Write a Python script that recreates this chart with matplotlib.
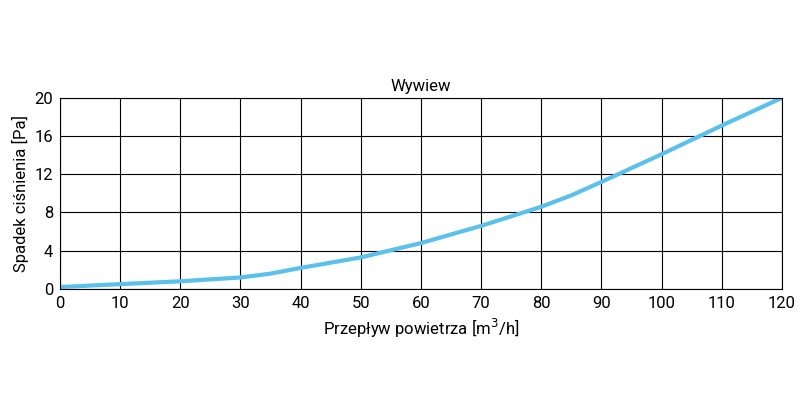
import matplotlib
matplotlib.use("Agg")
import matplotlib.pyplot as plt

flow = [0, 10, 20, 30, 35, 40, 50, 60, 70, 80, 85, 90, 100, 110, 120]
pressure = [0.2, 0.5, 0.8, 1.2, 1.6, 2.2, 3.3, 4.8, 6.6, 8.6, 9.8, 11.2, 14.1, 17.1, 20]
xticks = list(range(0, 121, 10))
yticks = [0, 4, 8, 12, 16, 20]

plt.rcParams['font.family'] = ['Roboto', 'DejaVu Sans']
fig = plt.figure(figsize=(8, 4.11), dpi=100)
ax = fig.add_axes([0.075, 0.297, 0.9025, 0.465])
ax.plot(flow, pressure, color='#5bc0eb', lw=3, solid_capstyle='round')
ax.set_xlim(0, 120)
ax.set_ylim(0, 20)
ax.set_xticks(xticks)
ax.set_yticks(yticks)
ax.grid(True, color='black', lw=0.8)
for s in ax.spines.values():
    s.set_linewidth(0.8)
ax.tick_params(labelsize=12, length=0, pad=5)
ax.set_title('Wywiew', fontsize=12, pad=5)
ax.set_xlabel('Przepływ powietrza [m$^3$/h]', fontsize=12, labelpad=4)
ax.set_ylabel('Spadek ciśnienia [Pa]', fontsize=12, labelpad=4)
fig.savefig('out.png', dpi=100)
